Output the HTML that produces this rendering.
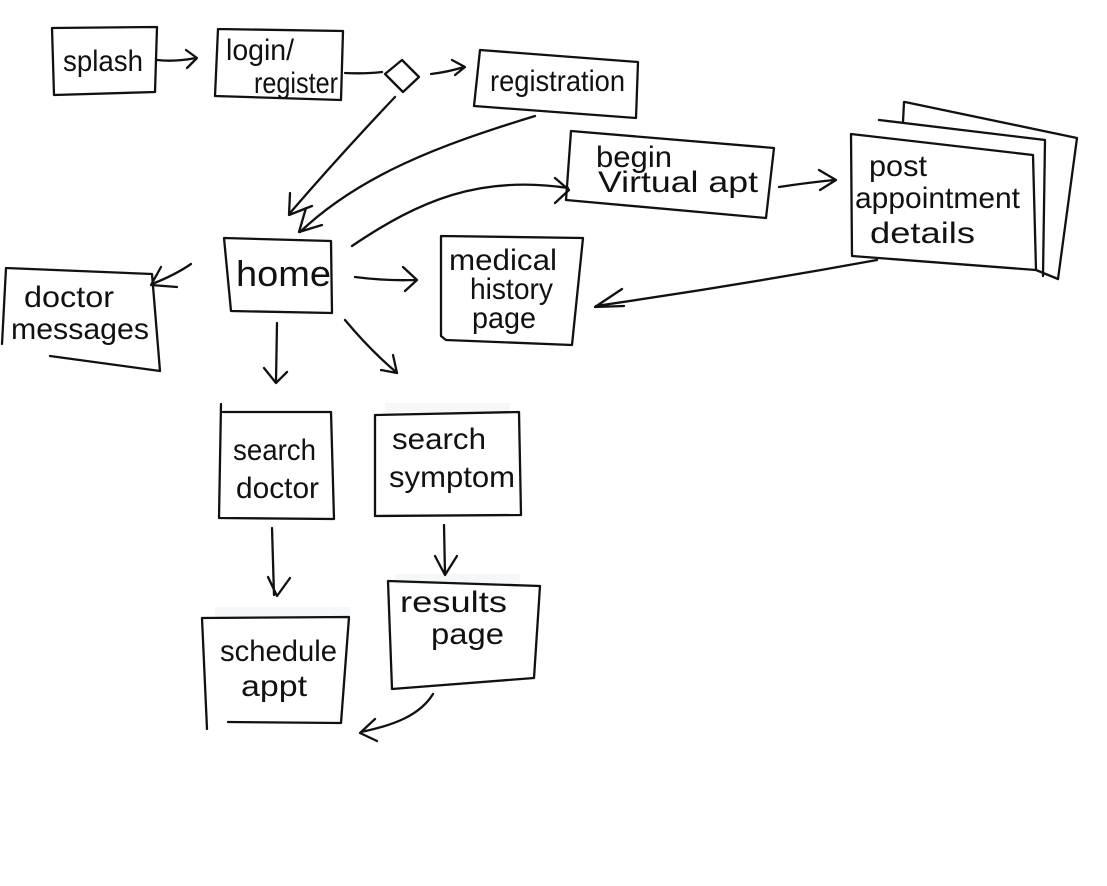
<!DOCTYPE html>
<html>
<head>
<meta charset="utf-8">
<style>
html,body{margin:0;padding:0;background:#fff;}
svg{display:block;}
text{font-family:"Liberation Sans",sans-serif;fill:#111;font-size:30px;}
path{fill:none;stroke:#111;stroke-width:2.3;stroke-linecap:round;stroke-linejoin:round;}
</style>
</head>
<body>
<svg width="1107" height="886" viewBox="0 0 1107 886" xmlns="http://www.w3.org/2000/svg">
<rect width="1107" height="886" fill="#fff"/>
<!-- soft paper shadows -->
<g fill="#f6f7f8">
<rect x="215" y="607" width="135" height="10"/>
<rect x="395" y="574" width="125" height="10"/>
<rect x="385" y="403" width="125" height="9"/>
</g>

<!-- boxes -->
<path d="M52 28L157 27L155 92L54 95Z"/>
<path d="M218 29L343 31L341 100L215 96L218 29"/>
<path d="M480 50L638 62L636 118L474 106Z"/>
<path d="M571 131L774 148L766 218L566 200Z"/>
<path d="M851 134L1033 155L1036 270L852 256Z"/>
<path d="M879 120L1045 140L1043 276M1036 270L1058 279"/>
<path d="M905 102L1077 138L1058 279M904 102L903 122"/>
<path d="M224 238L331 241L332 313L231 311Z"/>
<path d="M441 236L583 238L572 345L446 340L441 336Z"/>
<path d="M6 268L152 274L160 371L50 356M6 268L2 344"/>
<path d="M221 404L219 518L334 519L331 412L223 412"/>
<path d="M375 415L519 412L521 515L375 516Z"/>
<path d="M388 581L540 586L534 678L392 689Z"/>
<path d="M202 618L349 617L341 723L228 722M202 618L207 729"/>

<!-- diamond -->
<path d="M402 60L419 77L403 92L385 74Z"/>

<!-- connectors -->
<path d="M157 60Q175 62 196 58M186 50L197 58L187 68"/>
<path d="M345 73Q365 74 382 72"/>
<path d="M431 74Q448 72 464 67M452 60L465 67L455 75"/>
<path d="M395 97Q340 155 290 213M290 193L289 215L312 206"/>
<path d="M535 116C440 145 360 175 300 232M306 208L299 232L322 225"/>
<path d="M352 246C420 200 480 175 568 188M555 178L569 190L555 203"/>
<path d="M779 187Q805 183 834 180M819 170L836 180L820 190"/>
<path d="M877 260Q740 285 596 306M622 289L595 307L624 306"/>
<path d="M191 264Q175 275 152 284M161 267L151 285L177 287"/>
<path d="M355 277Q385 281 415 280M403 267L417 280L405 291"/>
<path d="M277 323L276 381M264 368L276 383L287 372"/>
<path d="M345 320Q370 350 396 372M381 370L397 373L393 355"/>
<path d="M272 528L274 595M268 577L277 596L290 578"/>
<path d="M444 525L445 574M435 556L445 575L457 556"/>
<path d="M433 694C420 715 395 725 361 732M375 719L360 733L377 741"/>

<!-- labels -->
<text x="63" y="71" textLength="80" lengthAdjust="spacingAndGlyphs">splash</text>
<text x="226" y="60" textLength="68" lengthAdjust="spacingAndGlyphs">login/</text>
<text x="254" y="93" textLength="84" lengthAdjust="spacingAndGlyphs">register</text>
<text x="490" y="91" textLength="135" lengthAdjust="spacingAndGlyphs">registration</text>
<text x="596" y="167" textLength="76" lengthAdjust="spacingAndGlyphs">begin</text>
<text x="598" y="192" textLength="160" lengthAdjust="spacingAndGlyphs">Virtual apt</text>
<text x="869" y="176" textLength="58" lengthAdjust="spacingAndGlyphs">post</text>
<text x="855" y="208" textLength="165" lengthAdjust="spacingAndGlyphs">appointment</text>
<text x="870" y="243" textLength="105" lengthAdjust="spacingAndGlyphs">details</text>
<text x="236" y="286" textLength="95" lengthAdjust="spacingAndGlyphs" style="font-size:36px">home</text>
<text x="449" y="270" textLength="108" lengthAdjust="spacingAndGlyphs">medical</text>
<text x="470" y="299" textLength="83" lengthAdjust="spacingAndGlyphs">history</text>
<text x="472" y="328" textLength="64" lengthAdjust="spacingAndGlyphs">page</text>
<text x="24" y="307" textLength="90" lengthAdjust="spacingAndGlyphs">doctor</text>
<text x="11" y="339" textLength="138" lengthAdjust="spacingAndGlyphs">messages</text>
<text x="233" y="460" textLength="83" lengthAdjust="spacingAndGlyphs">search</text>
<text x="236" y="498" textLength="83" lengthAdjust="spacingAndGlyphs">doctor</text>
<text x="392" y="449" textLength="94" lengthAdjust="spacingAndGlyphs">search</text>
<text x="389" y="487" textLength="126" lengthAdjust="spacingAndGlyphs">symptom</text>
<text x="400" y="612" textLength="107" lengthAdjust="spacingAndGlyphs">results</text>
<text x="431" y="644" textLength="73" lengthAdjust="spacingAndGlyphs">page</text>
<text x="220" y="661" textLength="117" lengthAdjust="spacingAndGlyphs">schedule</text>
<text x="241" y="696" textLength="66" lengthAdjust="spacingAndGlyphs">appt</text>
</svg>
</body>
</html>
